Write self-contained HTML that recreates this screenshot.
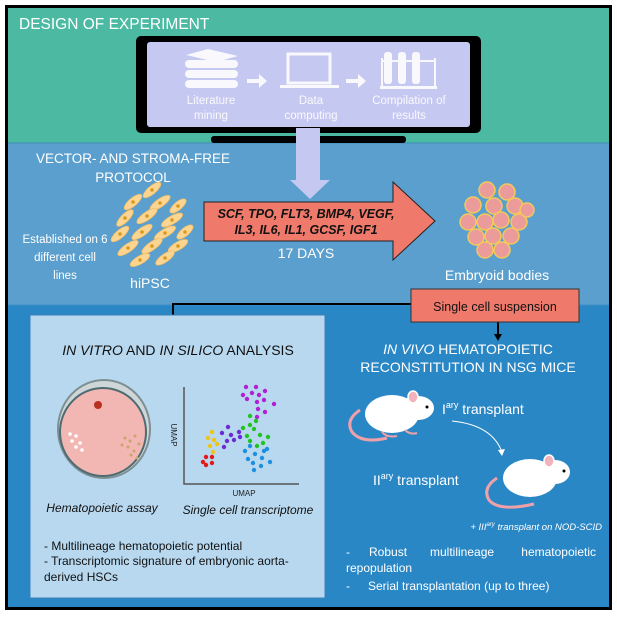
<!DOCTYPE html>
<html><head><meta charset="utf-8"><style>
html,body{margin:0;padding:0;background:#fff;}
svg{display:block;font-family:"Liberation Sans",sans-serif;}
</style></head><body>
<svg width="617" height="617" viewBox="0 0 617 617" xmlns="http://www.w3.org/2000/svg">
<rect x="0" y="0" width="617" height="617" fill="#fff"/>
<rect x="5" y="5" width="607" height="605" fill="#000"/>
<rect x="8" y="8" width="601" height="135" fill="#4cbaa3"/>
<rect x="8" y="143" width="601" height="162" fill="#5a9fcd"/>
<rect x="8" y="305" width="601" height="302" fill="#2a87c6"/>
<line x1="8" y1="143" x2="609" y2="143" stroke="#3d8fb8" stroke-width="1"/>
<line x1="8" y1="305" x2="609" y2="305" stroke="#3e8fc8" stroke-width="1"/>
<text x="19" y="29" font-size="15.5" fill="#fff">DESIGN OF EXPERIMENT</text>
<!-- monitor -->
<rect x="136" y="36" width="345" height="97" rx="5" fill="#000"/>
<rect x="147" y="42" width="323" height="85" rx="3" fill="#c5c8f0"/>
<rect x="211" y="136" width="195" height="7" rx="3" fill="#000"/>
<g fill="#fff" opacity="0.9">
<path d="M186 55 l22 -6 l30 7 l-22 6 z"/><rect x="185" y="60" width="53" height="8" rx="4"/><rect x="185" y="70" width="53" height="8" rx="4"/><rect x="185" y="80" width="53" height="8" rx="4"/>
<path d="M247 79 h12 v-5 l8 7 l-8 7 v-5 h-12 z"/>
<rect x="288" y="54" width="42" height="29" fill="none" stroke="#fff" stroke-width="3"/><rect x="280" y="85" width="59" height="3"/>
<path d="M346 79 h12 v-5 l8 7 l-8 7 v-5 h-12 z"/>
<rect x="384" y="52" width="8" height="32" rx="3"/><rect x="398" y="52" width="8" height="32" rx="3"/><rect x="412" y="52" width="8" height="32" rx="3"/><rect x="381" y="60" width="55" height="2"/><rect x="381" y="58" width="2" height="28"/><rect x="434" y="58" width="2" height="28"/><rect x="380" y="86" width="57" height="3"/>
</g>
<g font-size="11.5" fill="#fff" text-anchor="middle" opacity="0.9">
<text x="211" y="104">Literature</text><text x="211" y="119">mining</text>
<text x="311" y="104">Data</text><text x="311" y="119">computing</text>
<text x="409" y="104">Compilation of</text><text x="409" y="119">results</text>
</g>
<!-- lavender arrow -->
<path d="M296 128 h24 v52 h10 l-20 19 l-20 -19 h6 z" fill="#c5c8f0"/>
<!-- protocol section -->
<g font-size="13.5" fill="#fff" text-anchor="middle">
<text x="133" y="163">VECTOR- AND STROMA-FREE</text>
<text x="133" y="182">PROTOCOL</text>
</g>
<g font-size="11.5" fill="#fff" text-anchor="middle">
<text x="65" y="243">Established on 6</text>
<text x="65" y="261">different cell</text>
<text x="65" y="279">lines</text>
</g>
<text x="150" y="288" font-size="14" fill="#fff" text-anchor="middle">hiPSC</text>
<g fill="#fcd592" stroke="#f5be66" stroke-width="0.8">
<ellipse cx="152" cy="190" rx="11" ry="4" transform="rotate(-40 152 190)"/>
<ellipse cx="133" cy="202" rx="11" ry="4" transform="rotate(-40 133 202)"/>
<ellipse cx="160" cy="203" rx="12" ry="4" transform="rotate(-35 160 203)"/>
<ellipse cx="178" cy="206" rx="10" ry="4" transform="rotate(-40 178 206)"/>
<ellipse cx="125" cy="218" rx="11" ry="4" transform="rotate(-45 125 218)"/>
<ellipse cx="147" cy="216" rx="12" ry="4" transform="rotate(-35 147 216)"/>
<ellipse cx="172" cy="220" rx="12" ry="4" transform="rotate(-30 172 220)"/>
<ellipse cx="120" cy="234" rx="11" ry="4" transform="rotate(-40 120 234)"/>
<ellipse cx="142" cy="232" rx="12" ry="4" transform="rotate(-35 142 232)"/>
<ellipse cx="165" cy="233" rx="12" ry="4" transform="rotate(-30 165 233)"/>
<ellipse cx="185" cy="232" rx="10" ry="4" transform="rotate(-40 185 232)"/>
<ellipse cx="128" cy="248" rx="12" ry="4" transform="rotate(-35 128 248)"/>
<ellipse cx="152" cy="246" rx="12" ry="4" transform="rotate(-35 152 246)"/>
<ellipse cx="178" cy="246" rx="11" ry="4" transform="rotate(-30 178 246)"/>
<ellipse cx="140" cy="260" rx="11" ry="4" transform="rotate(-30 140 260)"/>
<ellipse cx="165" cy="258" rx="11" ry="4" transform="rotate(-35 165 258)"/>
</g>
<g fill="#d99a1c">
<circle cx="152" cy="190" r="1.8"/><circle cx="133" cy="202" r="1.8"/><circle cx="160" cy="203" r="1.8"/><circle cx="178" cy="206" r="1.8"/><circle cx="125" cy="218" r="1.8"/><circle cx="147" cy="216" r="1.8"/><circle cx="172" cy="220" r="1.8"/><circle cx="120" cy="234" r="1.8"/><circle cx="142" cy="232" r="1.8"/><circle cx="165" cy="233" r="1.8"/><circle cx="185" cy="232" r="1.8"/><circle cx="128" cy="248" r="1.8"/><circle cx="152" cy="246" r="1.8"/><circle cx="178" cy="246" r="1.8"/><circle cx="140" cy="260" r="1.8"/><circle cx="165" cy="258" r="1.8"/>
</g>
<!-- red arrow -->
<path d="M204 202 h189 v-20 l42 39 l-42 39 v-19 h-189 z" fill="#ef7a6b" stroke="#222" stroke-width="1"/>
<g font-size="12.5" font-weight="bold" font-style="italic" fill="#111" text-anchor="middle">
<text x="306" y="218">SCF, TPO, FLT3, BMP4, VEGF,</text>
<text x="306" y="234">IL3, IL6, IL1, GCSF, IGF1</text>
</g>
<text x="306" y="258" font-size="14" fill="#fff" text-anchor="middle">17 DAYS</text>
<!-- embryoid -->
<g fill="#ec9b9b" stroke="#f4c85c" stroke-width="1.5">
<circle cx="487" cy="190" r="8"/><circle cx="507" cy="192" r="8"/><circle cx="473" cy="205" r="8"/><circle cx="494" cy="206" r="8"/><circle cx="515" cy="206" r="8"/>
<circle cx="468" cy="222" r="8"/><circle cx="485" cy="222" r="8"/><circle cx="501" cy="220" r="8"/><circle cx="519" cy="222" r="8"/><circle cx="527" cy="210" r="7"/>
<circle cx="476" cy="237" r="8"/><circle cx="493" cy="236" r="8"/><circle cx="511" cy="236" r="8"/><circle cx="485" cy="250" r="8"/><circle cx="502" cy="250" r="8"/>
</g>
<text x="497" y="280" font-size="14" fill="#fff" text-anchor="middle">Embryoid bodies</text>
<!-- connectors -->
<polyline points="411,304 173,304 173,330" fill="none" stroke="#000" stroke-width="2"/>
<path d="M169 327 l4 7 l4 -7 z" fill="#000"/>
<line x1="498" y1="322" x2="498" y2="336" stroke="#000" stroke-width="2"/>
<path d="M494 334 l4 7 l4 -7 z" fill="#000"/>
<rect x="411" y="289" width="168" height="33" fill="#ef7a6b" stroke="#333" stroke-width="1"/>
<text x="495" y="311" font-size="12.5" fill="#111" text-anchor="middle">Single cell suspension</text>
<!-- light box -->
<rect x="30" y="315" width="295" height="283" fill="#b8d8ef" stroke="#3d7fb8" stroke-width="1"/>
<text x="178" y="355" font-size="14" fill="#111" text-anchor="middle"><tspan font-style="italic">IN VITRO</tspan> AND <tspan font-style="italic">IN SILICO</tspan> ANALYSIS</text>
<ellipse cx="104" cy="429" rx="46" ry="49" fill="#cfd6d8" stroke="#7d9094" stroke-width="2"/>
<ellipse cx="103" cy="432" rx="43" ry="44" fill="#f2b7b2" stroke="#4c6b72" stroke-width="2"/>
<circle cx="98" cy="405" r="4" fill="#b83020"/>
<g fill="#fff"><circle cx="70" cy="434" r="1.8"/><circle cx="76" cy="436" r="1.8"/><circle cx="72" cy="441" r="1.8"/><circle cx="80" cy="443" r="1.8"/><circle cx="76" cy="447" r="1.8"/><circle cx="82" cy="450" r="1.8"/></g>
<g fill="#c9a56a"><circle cx="125" cy="438" r="1.5"/><circle cx="130" cy="441" r="1.5"/><circle cx="135" cy="436" r="1.5"/><circle cx="128" cy="447" r="1.5"/><circle cx="134" cy="451" r="1.5"/><circle cx="139" cy="444" r="1.5"/><circle cx="122" cy="445" r="1.5"/><circle cx="137" cy="458" r="1.5"/><circle cx="131" cy="455" r="1.5"/></g>
<polyline points="184,387 184,484 299,484" fill="none" stroke="#555" stroke-width="1.5"/>
<text x="244" y="496" font-size="8" fill="#222" text-anchor="middle">UMAP</text>
<text transform="translate(171 435) rotate(90)" font-size="8" fill="#222" text-anchor="middle">UMAP</text>
<g fill="#b21fd6"><circle cx="246" cy="387" r="2.2"/><circle cx="256" cy="387" r="2.2"/><circle cx="243" cy="395" r="2.2"/><circle cx="252" cy="393" r="2.2"/><circle cx="259" cy="395" r="2.2"/><circle cx="265" cy="391" r="2.2"/><circle cx="247" cy="399" r="2.2"/><circle cx="257" cy="402" r="2.2"/><circle cx="264" cy="400" r="2.2"/><circle cx="274" cy="404" r="2.2"/><circle cx="258" cy="409" r="2.2"/><circle cx="265" cy="412" r="2.2"/><circle cx="257" cy="417" r="2.2"/></g>
<g fill="#21c321"><circle cx="250" cy="416" r="2.2"/><circle cx="243" cy="428" r="2.2"/><circle cx="250" cy="425" r="2.2"/><circle cx="256" cy="421" r="2.2"/><circle cx="254" cy="429" r="2.2"/><circle cx="247" cy="436" r="2.2"/><circle cx="260" cy="435" r="2.2"/><circle cx="263" cy="443" r="2.2"/><circle cx="257" cy="446" r="2.2"/><circle cx="268" cy="437" r="2.2"/><circle cx="250" cy="441" r="2.2"/></g>
<g fill="#1d8fe0"><circle cx="250" cy="446" r="2.2"/><circle cx="245" cy="451" r="2.2"/><circle cx="255" cy="454" r="2.2"/><circle cx="264" cy="451" r="2.2"/><circle cx="267" cy="449" r="2.2"/><circle cx="248" cy="459" r="2.2"/><circle cx="262" cy="458" r="2.2"/><circle cx="270" cy="462" r="2.2"/><circle cx="253" cy="463" r="2.2"/><circle cx="261" cy="466" r="2.2"/><circle cx="254" cy="470" r="2.2"/></g>
<g fill="#6b2bd2"><circle cx="228" cy="427" r="2.2"/><circle cx="222" cy="433" r="2.2"/><circle cx="231" cy="435" r="2.2"/><circle cx="239" cy="432" r="2.2"/><circle cx="227" cy="441" r="2.2"/><circle cx="234" cy="440" r="2.2"/><circle cx="224" cy="447" r="2.2"/><circle cx="240" cy="437" r="2.2"/></g>
<g fill="#f1c40f"><circle cx="212" cy="432" r="2.2"/><circle cx="208" cy="438" r="2.2"/><circle cx="214" cy="440" r="2.2"/><circle cx="210" cy="446" r="2.2"/><circle cx="217" cy="444" r="2.2"/><circle cx="213" cy="452" r="2.2"/></g>
<g fill="#e01919"><circle cx="206" cy="457" r="2.2"/><circle cx="212" cy="457" r="2.2"/><circle cx="203" cy="462" r="2.2"/><circle cx="206" cy="465" r="2.2"/><circle cx="212" cy="463" r="2.2"/></g>
<text x="102" y="512" font-size="12" font-style="italic" fill="#111" text-anchor="middle">Hematopoietic assay</text>
<text x="248" y="514" font-size="12" font-style="italic" fill="#111" text-anchor="middle">Single cell transcriptome</text>
<g font-size="12" fill="#111">
<text x="44" y="550">- Multilineage hematopoietic potential</text>
<text x="44" y="565">- Transcriptomic signature of embryonic aorta-</text>
<text x="44" y="581">derived HSCs</text>
</g>
<!-- right -->
<g font-size="14" fill="#fff" text-anchor="middle">
<text x="468" y="354"><tspan font-style="italic">IN VIVO</tspan> HEMATOPOIETIC</text>
<text x="468" y="372">RECONSTITUTION IN NSG MICE</text>
</g>
<g>
<path d="M360 410 q-15 10 -8 22 q10 12 35 6" fill="none" stroke="#f0a0a8" stroke-width="3"/>
<ellipse cx="392" cy="414" rx="27" ry="19" fill="#fff"/>
<ellipse cx="418" cy="408" rx="16" ry="12" fill="#fff"/>
<ellipse cx="413" cy="397" rx="5" ry="6" fill="#f3b3bd" stroke="#fff" stroke-width="1.5"/>
<circle cx="427" cy="407" r="1.5" fill="#000"/>
<path d="M382 432 q5 6 15 4 M405 430 q5 5 12 3" fill="none" stroke="#f0a0a8" stroke-width="2"/>
</g>
<text x="442" y="414" font-size="14" fill="#fff">I<tspan font-size="9" dy="-6">ary</tspan><tspan dy="6"> transplant</tspan></text>
<path d="M452 421 q40 4 50 31" fill="none" stroke="#fff" stroke-width="1"/>
<path d="M498 450 l4 6 l3 -7 z" fill="#fff"/>
<g>
<path d="M497 478 q-15 10 -8 22 q10 12 45 4" fill="none" stroke="#f0a0a8" stroke-width="3"/>
<ellipse cx="530" cy="478" rx="27" ry="19" fill="#fff"/>
<ellipse cx="555" cy="472" rx="15" ry="12" fill="#fff"/>
<ellipse cx="549" cy="461" rx="5" ry="6" fill="#f3b3bd" stroke="#fff" stroke-width="1.5"/>
<circle cx="564" cy="471" r="1.5" fill="#000"/>
</g>
<text x="373" y="485" font-size="14" fill="#fff">II<tspan font-size="9" dy="-6">ary</tspan><tspan dy="6"> transplant</tspan></text>
<text x="602" y="530" font-size="9.5" font-style="italic" fill="#fff" text-anchor="end">+ III<tspan font-size="6" dy="-4">ary</tspan><tspan dy="4"> transplant on NOD-SCID</tspan></text>
<g font-size="12" fill="#fff">
<text x="346" y="556">-</text><text x="369" y="556">Robust</text><text x="430" y="556">multilineage</text><text x="596" y="556" text-anchor="end">hematopoietic</text>
<text x="346" y="572">repopulation</text>
<text x="346" y="590">-</text><text x="368" y="590">Serial transplantation (up to three)</text>
</g>
</svg>
</body></html>
